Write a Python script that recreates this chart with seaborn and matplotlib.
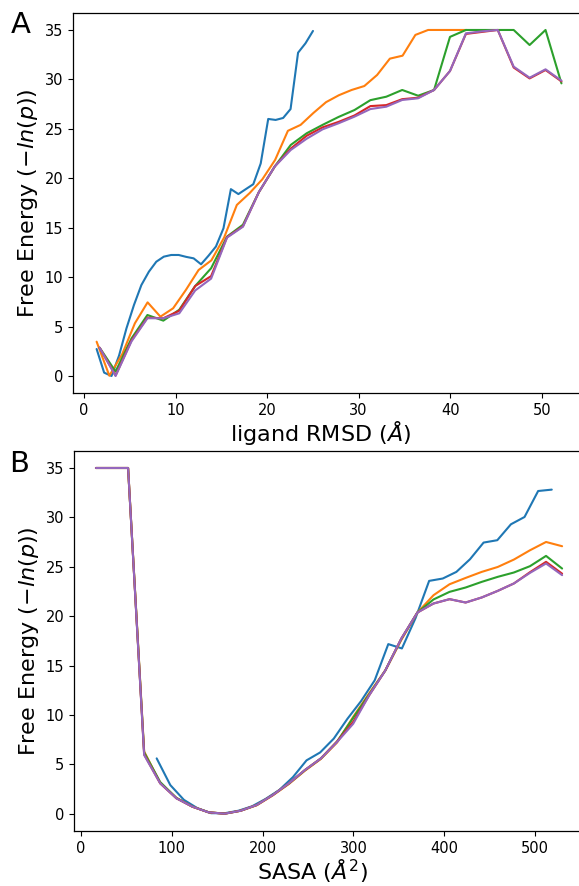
import numpy as np
import pandas as pd
import matplotlib
matplotlib.use("Agg")
import matplotlib.pyplot as plt
import seaborn as sns

# ---------------- Panel A: ligand RMSD ----------------
a_blue_x = [1.37, 2.19, 3.0, 3.82, 4.63, 5.45, 6.26, 7.08, 7.89, 8.71, 9.52, 10.34, 11.15, 11.97, 12.78,
            13.6, 14.41, 15.23, 16.04, 16.86, 17.67, 18.49, 19.3, 20.12, 20.93, 21.75, 22.56, 23.38, 24.19, 25.01]
a_blue_y = [2.73, 0.34, 0.0, 2.06, 4.82, 7.18, 9.2, 10.55, 11.56, 12.07, 12.24, 12.24, 12.05, 11.9, 11.3,
            12.17, 13.1, 14.94, 18.9, 18.4, 18.9, 19.4, 21.5, 26.0, 25.9, 26.1, 27.0, 32.7, 33.65, 34.9]

a_orange_x = [1.37, 2.76, 4.16, 5.55, 6.94, 8.34, 9.73, 11.12, 12.51, 13.91, 15.3, 16.69, 18.09, 19.48, 20.87,
              22.27, 23.66, 25.05, 26.44, 27.84, 29.23, 30.62, 32.02, 33.41, 34.8, 36.2, 37.59, 38.98, 40.37, 41.77]
a_orange_y = [3.47, 0.03, 2.2, 5.33, 7.45, 6.0, 6.85, 8.7, 10.72, 11.7, 14.0, 17.3, 18.5, 19.9, 21.85,
              24.8, 25.4, 26.6, 27.7, 28.4, 28.93, 29.33, 30.45, 32.1, 32.4, 34.5, 35.0, 35.0, 35.0, 35.0]

a_grp_x = [1.7, 3.44, 5.18, 6.92, 8.66, 10.4, 12.14, 13.88, 15.62, 17.36, 19.1, 20.84, 22.58, 24.32, 26.06,
           27.8, 29.54, 31.28, 33.02, 34.76, 36.5, 38.24, 39.98, 41.72, 43.46, 45.2, 46.94, 48.68, 50.42, 52.16]
a_green_y = [2.86, 0.45, 3.8, 6.17, 5.6, 6.7, 9.1, 10.9, 14.1, 15.3, 18.6, 21.2, 23.37, 24.55, 25.4,
             26.2, 26.9, 27.9, 28.25, 28.93, 28.35, 28.93, 34.3, 35.0, 35.0, 35.0, 35.0, 33.48, 35.0, 29.6]
a_red_y = [2.86, 0.05, 3.6, 5.9, 5.84, 6.6, 9.1, 10.1, 14.05, 15.15, 18.6, 21.2, 23.0, 24.3, 25.15,
           25.7, 26.35, 27.3, 27.4, 28.0, 28.15, 28.93, 30.85, 34.6, 34.8, 35.0, 31.2, 30.1, 30.95, 29.8]
a_purple_y = [2.86, 0.0, 3.5, 5.84, 5.84, 6.34, 8.65, 9.85, 14.0, 15.1, 18.6, 21.2, 22.86, 24.0, 24.95,
              25.56, 26.23, 27.0, 27.24, 27.92, 28.09, 28.93, 30.85, 34.66, 34.86, 35.0, 31.29, 30.17, 31.02, 29.87]

# ---------------- Panel B: SASA ----------------
b_blue_x = [83.2, 98.2, 113.2, 128.2, 143.2, 158.3, 173.3, 188.3, 203.3, 218.3, 233.3, 248.3, 263.3, 278.3, 293.3,
            308.4, 323.4, 338.4, 353.4, 368.4, 383.4, 398.4, 413.4, 428.4, 443.4, 458.5, 473.5, 488.5, 503.5, 518.5]
b_blue_y = [5.6, 2.9, 1.4, 0.55, 0.05, 0.05, 0.3, 0.75, 1.5, 2.4, 3.7, 5.4, 6.2, 7.6, 9.6,
            11.4, 13.5, 17.17, 16.73, 19.8, 23.57, 23.81, 24.48, 25.76, 27.45, 27.69, 29.3, 30.04, 32.67, 32.81]

b_grp_x = [16.3, 34.0, 51.7, 69.4, 87.1, 104.9, 122.6, 140.3, 158.0, 175.7, 193.4, 211.1, 228.8, 246.5, 264.2,
           281.9, 299.7, 317.4, 335.1, 352.8, 370.5, 388.2, 405.9, 423.6, 441.3, 459.0, 476.8, 494.5, 512.2, 529.9]
b_orange_y = [35.0, 35.0, 35.0, 6.3, 3.1, 1.6, 0.7, 0.15, 0.0, 0.3, 0.85, 1.85, 3.0, 4.35, 5.55,
              7.2, 9.8, 12.2, 14.5, 17.6, 20.37, 22.12, 23.23, 23.87, 24.48, 24.98, 25.73, 26.67, 27.51, 27.08]
b_green_y = [35.0, 35.0, 35.0, 6.2, 3.2, 1.6, 0.72, 0.15, 0.0, 0.3, 0.88, 1.9, 3.05, 4.4, 5.6,
             7.3, 9.7, 12.1, 14.5, 17.7, 20.37, 21.69, 22.46, 22.9, 23.47, 23.98, 24.42, 25.06, 26.1, 24.82]
b_red_y = [35.0, 35.0, 35.0, 6.0, 3.07, 1.56, 0.71, 0.14, 0.0, 0.3, 0.88, 1.89, 3.07, 4.42, 5.6,
           7.3, 9.3, 12.0, 14.5, 17.74, 20.37, 21.28, 21.72, 21.38, 21.89, 22.56, 23.31, 24.45, 25.5, 24.3]
b_purple_y = [35.0, 35.0, 35.0, 5.94, 3.07, 1.56, 0.71, 0.14, 0.0, 0.3, 0.88, 1.89, 3.07, 4.42, 5.6,
              7.25, 9.1, 12.0, 14.5, 17.74, 20.37, 21.28, 21.72, 21.38, 21.89, 22.56, 23.31, 24.38, 25.33, 24.15]

series_names = ["s1", "s2", "s3", "s4", "s5"]


def long_frame(xs, ys):
    rows = []
    for name, x, y in zip(series_names, xs, ys):
        rows.append(pd.DataFrame({"series": name, "x": x, "y": y}))
    return pd.concat(rows, ignore_index=True)


df_a = long_frame([a_blue_x, a_orange_x, a_grp_x, a_grp_x, a_grp_x],
                  [a_blue_y, a_orange_y, a_green_y, a_red_y, a_purple_y])
df_b = long_frame([b_blue_x, b_grp_x, b_grp_x, b_grp_x, b_grp_x],
                  [b_blue_y, b_orange_y, b_green_y, b_red_y, b_purple_y])

sns.set_style("ticks")
plt.rcParams["font.family"] = ["DejaVu Sans"]
plt.rcParams["mathtext.fontset"] = "dejavusans"
plt.rcParams["text.color"] = "black"
plt.rcParams["axes.labelcolor"] = "black"
palette = sns.color_palette("tab10", 5)

W, H = 579, 886
fig = plt.figure(figsize=(W / 100, H / 100), dpi=100)

ax_a = fig.add_axes([73.1 / W, 0.5561, 0.8836, 0.4296])
ax_b = fig.add_axes([73.9 / W, 0.0621, 0.8841, 0.4292])

for ax, df in ((ax_a, df_a), (ax_b, df_b)):
    sns.lineplot(data=df, x="x", y="y", hue="series", hue_order=series_names, palette=palette,
                 estimator=None, sort=False, legend=False, linewidth=1.5, ax=ax)
    ax.set_ylim(-1.75, 36.75)
    ax.set_yticks([0, 5, 10, 15, 20, 25, 30, 35])
    ax.tick_params(labelsize=10.5, length=3.5, colors="black")
    for s in ax.spines.values():
        s.set_color("black")
        s.set_linewidth(0.9)
    ax.set_ylabel(r"Free Energy ($-ln(p)$)", fontsize=16, labelpad=3, color="black")

ax_a.set_xlim(-1.2, 54.7)
ax_a.set_xticks([0, 10, 20, 30, 40, 50])
ax_a.set_xlabel(r"ligand RMSD ($\AA$)", fontsize=16, labelpad=1, color="black")
ax_a.xaxis.label.set_x((321 - 73.1) / 511.6)

ax_b.set_xlim(-8.0, 556)
ax_b.set_xticks([0, 100, 200, 300, 400, 500])
ax_b.set_xlabel(r"SASA ($\AA^2$)", fontsize=16, labelpad=1, color="black")
ax_b.xaxis.label.set_x((313 - 73.9) / 511.9)

fig.text(11 / W, 1 - 33 / H, "A", fontsize=21, va="baseline", ha="left", color="black")
fig.text(9 / W, 1 - 472 / H, "B", fontsize=21, va="baseline", ha="left", color="black")

fig.savefig("out.png", dpi=100)
